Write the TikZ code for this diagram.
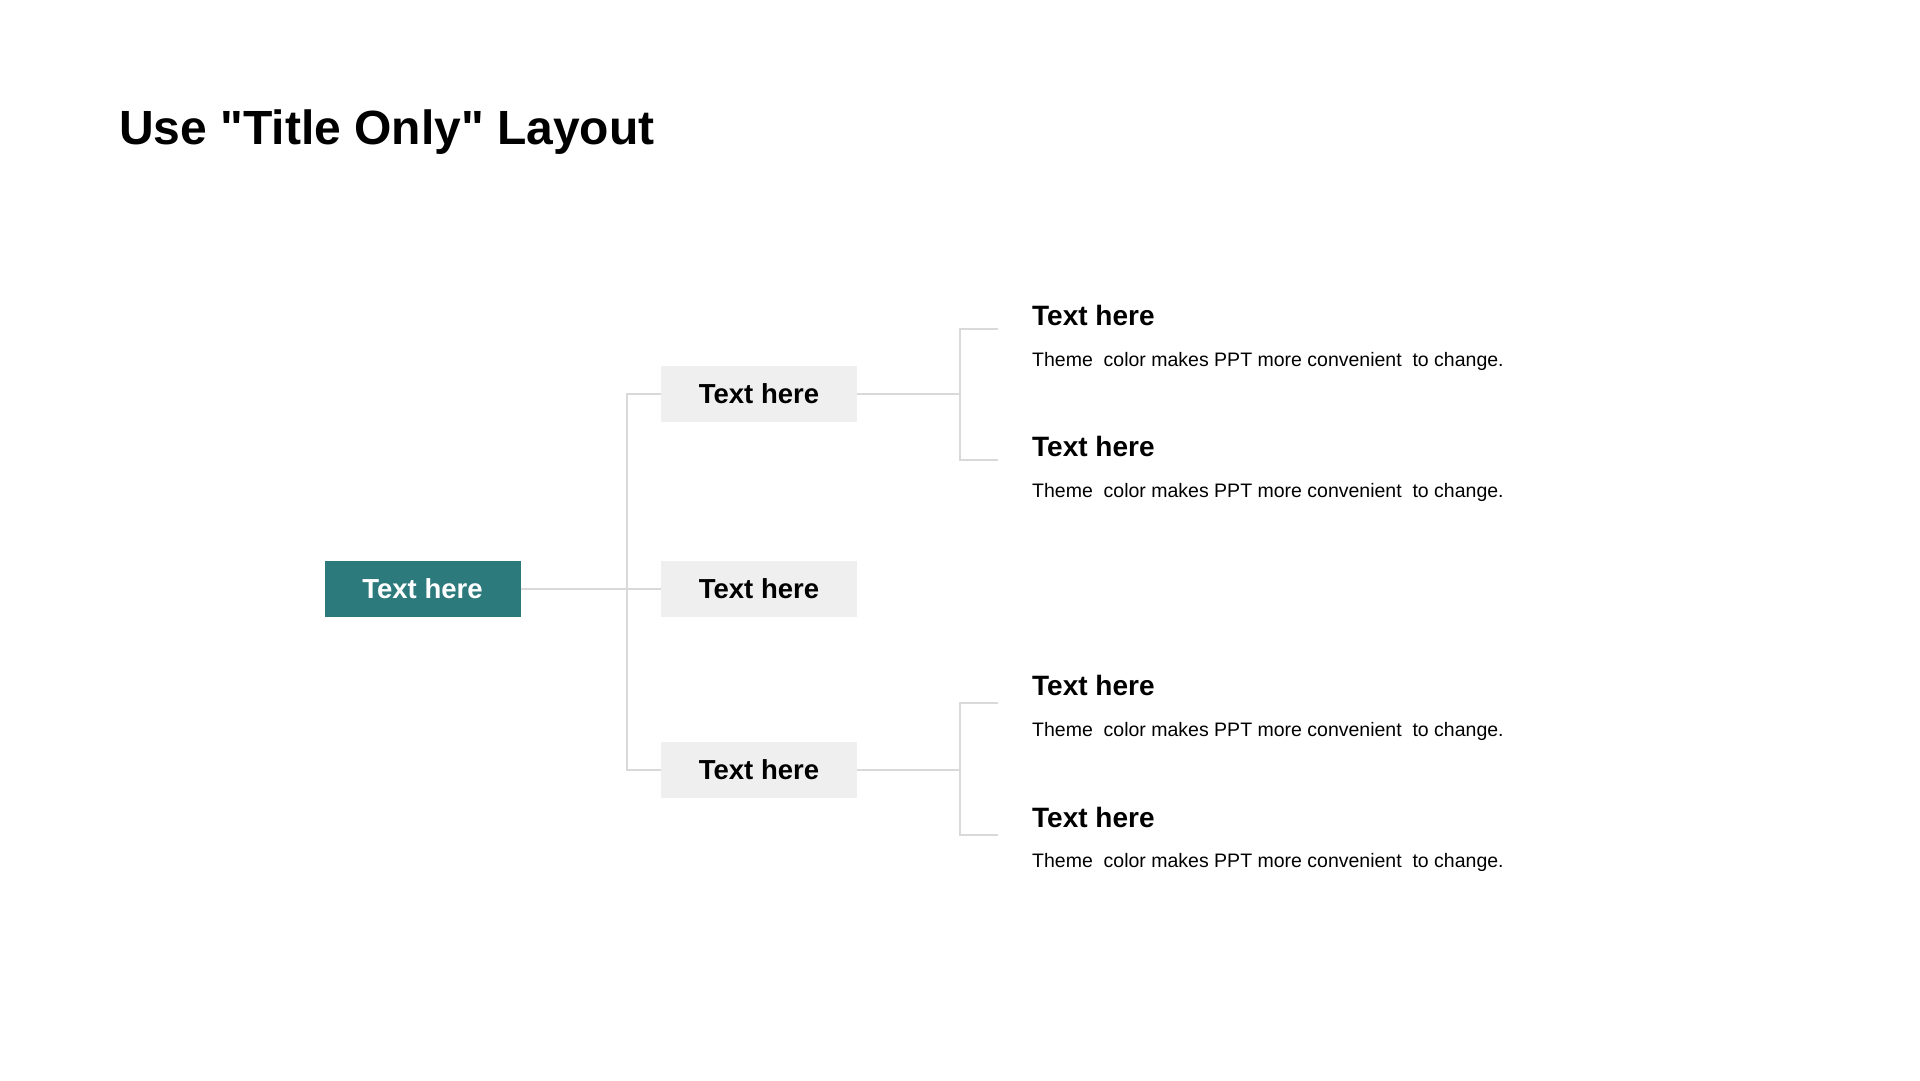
\documentclass[tikz,border=0pt]{standalone}
\usepackage{fontspec}
\setmainfont{Liberation Sans}[Ligatures=TeXOff]
\definecolor{teal1}{HTML}{2D7A7D}
\definecolor{boxgray}{HTML}{EFEFEF}
\definecolor{linegray}{HTML}{D9D9D9}
\begin{document}
\begin{tikzpicture}[x=1pt,y=-1pt,
  rootbox/.style={fill=teal1,text=white,minimum width=196pt,minimum height=56pt,inner sep=0pt,font=\fontsize{27.5}{30}\selectfont\bfseries},
  midbox/.style={fill=boxgray,text=black,minimum width=196pt,minimum height=56pt,inner sep=0pt,font=\fontsize{27.5}{30}\selectfont\bfseries},
  conn/.style={draw=linegray,line width=1.3pt},
  head/.style={anchor=base west,inner sep=0pt,font=\fontsize{28}{30}\selectfont\bfseries},
  desc/.style={anchor=base west,inner sep=0pt,font=\fontsize{19.5}{22}\selectfont},
  ttl/.style={anchor=base west,inner sep=0pt,font=\fontsize{48}{52}\selectfont\bfseries}]
\useasboundingbox (0,0) rectangle (1920,1080);
\node[ttl] (title) at (119,144) {Use "Title Only" Layout};

\node[rootbox] (root) at (422.5,589) {Text here};
\node[midbox] (m1) at (759,394) {Text here};
\node[midbox] (m2) at (759,589) {Text here};
\node[midbox] (m3) at (759,770) {Text here};

\coordinate (tx) at (627,589);
\draw[conn] (root.east) -- (m2.west);
\draw[conn] (m1.west) -| (tx) |- (m3.west);

% upper bracket
\coordinate (b1) at (960,394);
\coordinate (c1t) at (998,329);
\coordinate (c1b) at (998,460);
\draw[conn] (m1.east) -- (b1);
\draw[conn] (c1t) -| (b1) |- (c1b);

% lower bracket
\coordinate (b2) at (960,770);
\coordinate (c2t) at (998,703);
\coordinate (c2b) at (998,835);
\draw[conn] (m3.east) -- (b2);
\draw[conn] (c2t) -| (b2) |- (c2b);

\node[head] (h1) at (1032,325) {Text here};
\node[desc] (d1) at (1032,366) {Theme\ \ color makes PPT more convenient\ \ to change.};
\node[head] (h2) at (1032,456) {Text here};
\node[desc] (d2) at (1032,497) {Theme\ \ color makes PPT more convenient\ \ to change.};
\node[head] (h3) at (1032,695) {Text here};
\node[desc] (d3) at (1032,736) {Theme\ \ color makes PPT more convenient\ \ to change.};
\node[head] (h4) at (1032,827) {Text here};
\node[desc] (d4) at (1032,867) {Theme\ \ color makes PPT more convenient\ \ to change.};
\end{tikzpicture}
\end{document}
